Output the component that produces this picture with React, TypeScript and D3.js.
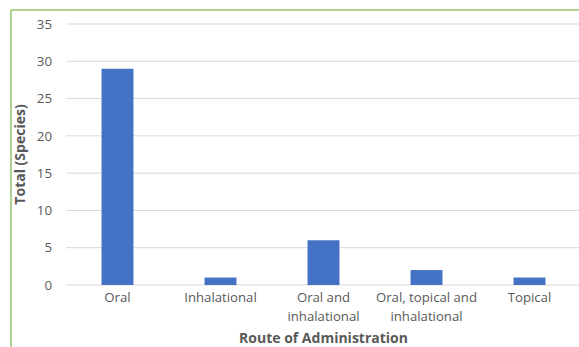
import React from 'react';
import * as d3 from 'd3';

const routes = ['Oral', 'Inhalational', 'Oral and inhalational', 'Oral, topical and inhalational', 'Topical'];
const routeLines = [['Oral'], ['Inhalational'], ['Oral and', 'inhalational'], ['Oral, topical and', 'inhalational'], ['Topical']];
const totals = [29, 1, 6, 2, 1];
const yTicks = [0, 5, 10, 15, 20, 25, 30, 35];

const W = 579;
const H = 347;
const margin = { top: 24, right: -2, bottom: 62, left: 66 };
const font = '"Open Sans", "Liberation Sans", sans-serif';

export default function App() {
    const x = d3.scaleBand<string>()
        .domain(routes)
        .range([margin.left, W - margin.right])
        .paddingInner(0.69)
        .paddingOuter(0.345);

    const y = d3.scaleLinear()
        .domain([0, 35])
        .range([H - margin.bottom, margin.top]);

    return (
        <svg width={W} height={H} style={{ position: 'absolute', left: 0, top: 0, display: 'block' }}>
            <rect x={0} y={0} width={W} height={H} fill="#fff" />
            {/* frame */}
            <line x1={11} x2={11} y1={10} y2={H} stroke="#92c46e" strokeWidth={1.5} />
            <line x1={11} x2={W} y1={10} y2={10} stroke="#92c46e" strokeWidth={1.5} />

            {yTicks.map(t => (
                <g key={t}>
                    <line x1={margin.left} x2={W} y1={y(t)} y2={y(t)} stroke="#d9d9d9" strokeWidth={1} />
                    <text x={52} y={y(t)} dy="0.35em" textAnchor="end" fontFamily={font} fontSize={13.3} fill="#595959">{t}</text>
                </g>
            ))}

            {routes.map((r, i) => (
                <rect key={r} x={x(r)} y={y(totals[i])} width={x.bandwidth()} height={y(0) - y(totals[i])} fill="#4472c4" />
            ))}

            {routes.map((r, i) => (
                <text key={r} x={(x(r) as number) + x.bandwidth() / 2} y={302} textAnchor="middle" fontFamily={font} fontSize={13.2} fill="#595959">
                    {routeLines[i].map((s, j) => (
                        <tspan key={j} x={(x(r) as number) + x.bandwidth() / 2} dy={j === 0 ? 0 : 19}>{s}</tspan>
                    ))}
                </text>
            ))}

            <text x={(margin.left + W - margin.right) / 2} y={343} textAnchor="middle" fontFamily={font} fontSize={14} fontWeight="bold" fill="#595959">Route of Administration</text>
            <text transform={`translate(25,${(y(0) + y(35)) / 2}) rotate(-90)`} textAnchor="middle" fontFamily={font} fontSize={14} fontWeight="bold" fill="#595959">Total (Species)</text>
        </svg>
    );
}
